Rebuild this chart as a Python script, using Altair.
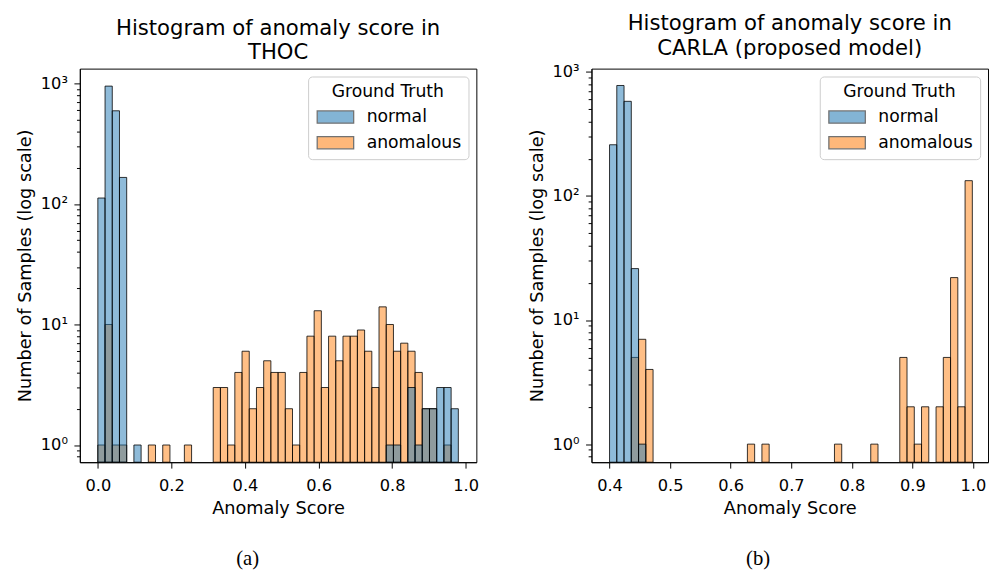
import altair as alt
import pandas as pd

# ---------------- data ----------------
truth_levels = ["normal", "anomalous"]
truth_colors = ["#1f77b4", "#ff7f0e"]

# (a) THOC : 50 bins starting at 0.0
thoc_bin_start = 0.0
thoc_bin_width = 0.0196
thoc_normal = [112, 950, 593, 166, 0, 1, 0, 0, 0, 0,
               0, 0, 0, 0, 0, 0, 0, 0, 0, 0,
               0, 0, 0, 0, 0, 0, 0, 0, 0, 0,
               0, 0, 0, 0, 0, 0, 0, 0, 0, 0,
               1, 1, 0, 3, 1, 2, 2, 3, 3, 2]
thoc_anomalous = [1, 10, 1, 1, 0, 0, 0, 1, 0, 1,
                  0, 0, 1, 0, 0, 0, 3, 3, 1, 4,
                  6, 2, 3, 5, 4, 4, 2, 1, 4, 8,
                  13, 3, 8, 5, 8, 8, 9, 6, 3, 14,
                  10, 6, 7, 6, 4, 2, 2, 0, 1, 0]

# (b) CARLA : 50 bins starting at 0.4
carla_bin_start = 0.4
carla_bin_width = 0.01198
carla_normal = [259, 778, 580, 26, 1, 0, 0, 0, 0, 0,
                0, 0, 0, 0, 0, 0, 0, 0, 0, 0,
                0, 0, 0, 0, 0, 0, 0, 0, 0, 0,
                0, 0, 0, 0, 0, 0, 0, 0, 0, 0,
                0, 0, 0, 0, 0, 0, 0, 0, 0, 0]
carla_anomalous = [0, 0, 0, 5, 7, 4, 0, 0, 0, 0,
                   0, 0, 0, 0, 0, 0, 0, 0, 0, 1,
                   0, 1, 0, 0, 0, 0, 0, 0, 0, 0,
                   0, 1, 0, 0, 0, 0, 1, 0, 0, 0,
                   5, 2, 1, 2, 0, 2, 5, 22, 2, 133]

thoc_title = ["Histogram of anomaly score in", "THOC"]
carla_title = ["Histogram of anomaly score in", "CARLA (proposed model)"]
thoc_xticks = [0.0, 0.2, 0.4, 0.6, 0.8, 1.0]
carla_xticks = [0.4, 0.5, 0.6, 0.7, 0.8, 0.9, 1.0]
major_yticks = [1, 10, 100, 1000]
minor_yticks = [0.8, 0.9, 2, 3, 4, 5, 6, 7, 8, 9,
                20, 30, 40, 50, 60, 70, 80, 90,
                200, 300, 400, 500, 600, 700, 800, 900]


def make_table(start, width, normal, anomalous):
    rows = []
    for label, counts in (("anomalous", anomalous), ("normal", normal)):
        for i, c in enumerate(counts):
            if c > 0:
                rows.append({"start": start + i * width,
                             "end": start + (i + 1) * width,
                             "count": c, "truth": label})
    return pd.DataFrame(rows)


FONT = "DejaVu Sans"
LEGEND_SYMBOL = "M-1,-0.96L4.7,-0.96L4.7,0.96L-1,0.96Z"
YLABEL = ("datum.value == 1 ? '10\u2070' : datum.value == 10 ? '10\u00b9' : "
          "datum.value == 100 ? '10\u00b2' : '10\u00b3'")


def panel(df, title, xdom, xticks, ydom, caption):
    xenc = alt.X("start:Q", scale=alt.Scale(domain=xdom, nice=False, zero=False),
                 axis=alt.Axis(values=xticks, format=".1f", title="Anomaly Score",
                               tickSize=6, labelPadding=9.5, titlePadding=6))
    yscale = alt.Scale(type="log", domain=ydom, nice=False)
    color = alt.Color("truth:N",
                      scale=alt.Scale(domain=truth_levels, range=truth_colors),
                      legend=alt.Legend(title="Ground Truth", orient="top-right", offset=8,
                                        titleFontSize=17.5, titleFontWeight="normal",
                                        titleFont=FONT, labelFont=FONT,
                                        titleAnchor="middle", labelFontSize=17.5,
                                        titleColor="black", labelColor="black",
                                        padding=7, strokeColor="#cccccc",
                                        fillColor="white", cornerRadius=4,
                                        symbolType=LEGEND_SYMBOL, symbolSize=169,
                                        symbolStrokeColor="black", symbolStrokeWidth=1.3,
                                        symbolOpacity=0.55,
                                        labelOffset=35, rowPadding=7, titlePadding=8))
    bar = dict(fillOpacity=0.5, stroke="black", strokeWidth=1, strokeOpacity=0.8)
    base = alt.Chart(df)
    anom = base.transform_filter(alt.datum.truth == "anomalous").mark_bar(**bar).encode(
        x=xenc, x2="end:Q",
        y=alt.Y("count:Q", scale=yscale,
                axis=alt.Axis(values=minor_yticks, labels=False, domain=False,
                              tickSize=3.4, title=None, orient="left")),
        y2=alt.datum(ydom[0]),
        color=color)
    norm = base.transform_filter(alt.datum.truth == "normal").mark_bar(**bar).encode(
        x=xenc, x2="end:Q",
        y=alt.Y("count:Q", scale=yscale,
                axis=alt.Axis(values=major_yticks, labelExpr=YLABEL, tickSize=6,
                              labelPadding=6.6, title="Number of Samples (log scale)",
                              titlePadding=6, orient="left")),
        y2=alt.datum(ydom[0]),
        color=color)
    layer = alt.layer(anom, norm).resolve_axis(y="independent").properties(
        width=403, height=400,
        title=alt.TitleParams(title, fontSize=21.5, font=FONT, fontWeight="normal",
                              lineHeight=25, offset=-17, baseline="bottom",
                              anchor="middle", color="black"))
    return alt.vconcat(layer).resolve_scale(color="independent").resolve_legend(
        color="independent").properties(
        title=alt.TitleParams(caption, orient="bottom", anchor="middle", frame="bounds",
                              font="Liberation Serif", fontSize=21, fontWeight="normal",
                              color="black", offset=31))


left = panel(make_table(thoc_bin_start, thoc_bin_width, thoc_normal, thoc_anomalous),
             thoc_title, [-0.049, 1.029], thoc_xticks, [0.72, 1327], "(a)")
right = panel(make_table(carla_bin_start, carla_bin_width, carla_normal, carla_anomalous),
              carla_title, [0.3702, 1.0249], carla_xticks, [0.715, 1064], "(b)")

chart = alt.hconcat(left, right, spacing=49).resolve_scale(
    color="independent").resolve_legend(color="independent").properties(
    padding={"left": 8, "top": 0, "right": 0, "bottom": 0}
).configure_view(stroke="black", strokeWidth=1).configure_axis(
    grid=False, domainColor="black", tickColor="black", labelColor="black",
    titleColor="black", labelFont=FONT, titleFont=FONT, labelFontSize=16.5,
    titleFontSize=18, titleFontWeight="normal", domainWidth=1, tickWidth=1)

chart.save("out.html", embed_options={"renderer": "svg", "actions": False})
